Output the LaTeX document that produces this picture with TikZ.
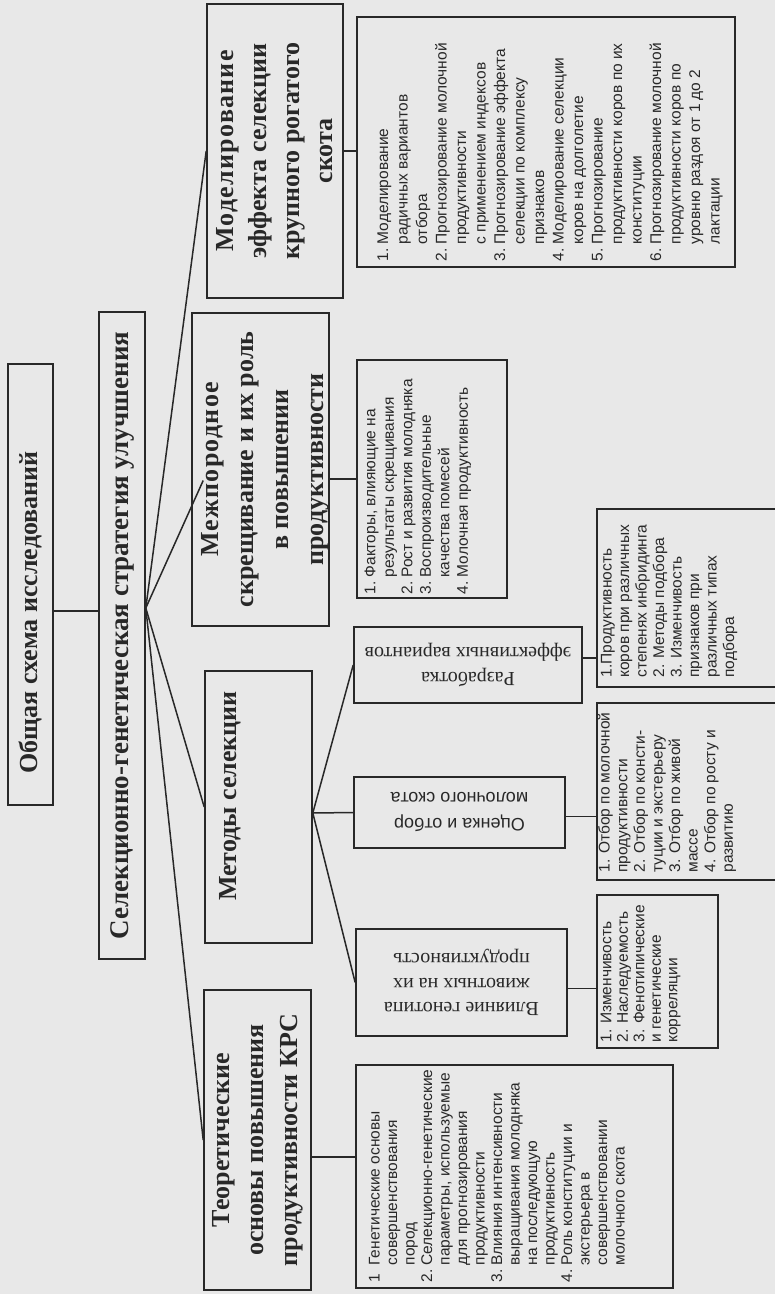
\documentclass[tikz,border=0pt]{standalone}
\usepackage{fontspec}
\setmainfont{Liberation Serif}
\newfontfamily\listfont{Liberation Sans}
\usetikzlibrary{calc}
\definecolor{bg}{RGB}{232,232,232}
\definecolor{ink}{RGB}{40,40,40}
\newcommand{\spaced}[1]{{\addfontfeature{LetterSpace=5}#1}}
\tikzset{
  box/.style={draw=ink, line width=1.6pt, inner sep=0pt},
  link/.style={draw=ink, line width=1.5pt},
  head/.style={rotate=90, align=center, text=ink, inner sep=0pt,
    font=\bfseries\fontsize{26}{33}\selectfont},
  flip/.style={rotate=180, align=center, text=ink, inner sep=0pt,
    font=\fontsize{20}{25}\selectfont},
  listtext/.style={rotate=90, anchor=north west, inner sep=0pt, text=ink,
    font=\listfont\fontsize{15.5}{18.5}\selectfont},
}
\begin{document}
\begin{tikzpicture}[x=1pt,y=-1pt]
\useasboundingbox (0,0) rectangle (775,1294);
\clip (0,0) rectangle (775,1294);
\fill[bg] (0,0) rectangle (775,1294);

% boxes
\node[box, minimum width=45pt,  minimum height=441pt] (T)   at (30.5,584.5) {};
\node[box, minimum width=46pt,  minimum height=647pt] (S)   at (122,635.5) {};
\node[box, minimum width=136pt, minimum height=294pt] (M)   at (275,151) {};
\node[box, minimum width=137pt, minimum height=313pt] (Mz)  at (260.5,469.5) {};
\node[box, minimum width=107pt, minimum height=272pt] (Me)  at (258.5,807) {};
\node[box, minimum width=107pt, minimum height=300pt] (Th)  at (257.5,1140) {};
\node[box, minimum width=378pt, minimum height=250pt] (ML)  at (546,142) {};
\node[box, minimum width=150pt, minimum height=238pt] (MzL) at (432,479) {};
\node[box, minimum width=228pt, minimum height=76pt]  (R)   at (468,665) {};
\node[box, minimum width=211pt, minimum height=71pt]  (O)   at (459.5,812.5) {};
\node[box, minimum width=211pt, minimum height=107pt] (V)   at (461.5,982.5) {};
\node[box, minimum width=193pt, minimum height=178pt] (RL)  at (693.5,598) {};
\node[box, minimum width=193pt, minimum height=177pt] (OL)  at (693.5,791.5) {};
\node[box, minimum width=121pt, minimum height=153pt] (VL)  at (657.5,971.5) {};
\node[box, minimum width=317pt, minimum height=223pt] (ThL) at (514.5,1176.5) {};

% headings
\node[head] (Tt) at ($(T.center)+(0,28)$) {Общая схема исследований};
\node[head, font=\bfseries\fontsize{27}{33}\selectfont] (St) at (S.center) {Селекционно-генетическая стратегия улучшения};
\node[head] (Mt) at (M.center) {\spaced{Моделирование}\\эффекта селекции\\крупного рогатого\\скота};
\node[head, font=\bfseries\fontsize{26}{35}\selectfont] (Mzt) at ($(Mz.center)+(5,0)$) {\spaced{Межпородное}\\скрещивание и их роль\\в повышении\\продуктивности};
\node[head, anchor=north] (Met) at ($(Me.west)+(15,-11)$) {Методы селекции};
\node[head, font=\bfseries\fontsize{26}{34}\selectfont] (Tht) at (Th.center) {Теоретические\\основы повышения\\продуктивности КРС};

% upside-down boxes
\node[flip] (Rt) at (R.center) {Разработка\\эффективных вариантов};
\node[flip, font=\listfont\fontsize{18}{26}\selectfont] (Ot) at (O.center) {Оценка и отбор\\молочного скота};
\node[flip, font=\fontsize{20}{24.5}\selectfont] (Vt) at (V.center) {Влияние генотипа\\животных на их\\продуктивность};

% lists
\node[listtext, font=\listfont\fontsize{15.5}{19.5}\selectfont] (MLt) at ($(ML.south west)+(18,-6)$) {%
\begin{tabular}{@{}l@{\ }l@{}}
1. & Моделирование\\
   & радичных вариантов\\
   & отбора\\
2. & Прогнозирование молочной\\
   & продуктивности\\
   & с применением индексов\\
3. & Прогнозирование эффекта\\
   & селекции по комплексу\\
   & признаков\\
4. & Моделирование селекции\\
   & коров на долголетие\\
5. & Прогнозирование\\
   & продуктивности коров по их\\
   & конституции\\
6. & Прогнозирование молочной\\
   & продуктивности коров по\\
   & уровню раздоя от 1 до 2\\
   & лактации
\end{tabular}};

\node[listtext] (MzLt) at ($(MzL.south west)+(6,-4)$) {%
\begin{tabular}{@{}l@{\ }l@{}}
1. & Факторы, влияющие на\\
   & результаты скрещивания\\
2. & Рост и развития молодняка\\
3. & Воспроизводительные\\
   & качества помесей\\
4. & Молочная продуктивность
\end{tabular}};

\node[listtext, font=\listfont\fontsize{15.5}{17.5}\selectfont] (RLt) at ($(RL.south west)+(3,-10)$) {%
\begin{tabular}{@{}l@{}}
1.Продуктивность\\
коров при различных\\
степенях инбридинга\\
2. Методы подбора\\
3. Изменчивость\\
признаков при\\
различных типах\\
подбора
\end{tabular}};

\node[listtext, font=\listfont\fontsize{15.5}{17.6}\selectfont] (OLt) at ($(OL.south west)+(1,-8)$) {%
\begin{tabular}{@{}l@{}}
1. Отбор по молочной\\
продуктивности\\
2. Отбор по консти-\\
туции и экстерьеру\\
3. Отбор по живой\\
массе\\
4. Отбор по росту и\\
развитию
\end{tabular}};

\node[listtext, font=\listfont\fontsize{15.5}{16.5}\selectfont] (VLt) at ($(VL.south west)+(3.5,-6)$) {%
\begin{tabular}{@{}l@{}}
1. Изменчивость\\
2. Наследуемость\\
3. Фенотипические\\
и генетические\\
корреляции
\end{tabular}};

\node[listtext, font=\listfont\fontsize{15.5}{17.5}\selectfont] (ThLt) at ($(ThL.south west)+(12,-6)$) {%
\begin{tabular}{@{}l@{\ }l@{}}
1  & Генетические основы\\
   & совершенствования\\
   & пород\\
2. & Селекционно-генетические\\
   & параметры, используемые\\
   & для прогнозирования\\
   & продуктивности\\
3. & Влияния интенсивности\\
   & выращивания молодняка\\
   & на последующую\\
   & продуктивность\\
4. & Роль конституции и\\
   & экстерьера в\\
   & совершенствовании\\
   & молочного скота
\end{tabular}};

% connectors
\coordinate (fanS) at ($(S.east)+(0,-27.5)$);
\coordinate (fanMe) at ($(Me.east)+(0,6)$);
\draw[link] ($(T.east)+(0,26.5)$) -- ($(S.west)+(0,-24.5)$);
\draw[link] (fanS) -- (M.west);
\draw[link] (fanS) -- ($(Mz.west)+(12,11)$);
\draw[link] (fanS) -- (Me.west);
\draw[link] (fanS) -- (Th.west);
\draw[link] (M.east) -- (M.east -| ML.west);
\draw[link] (MzL.west -| Mz.east) -- (MzL.west);
\draw[link] (fanMe) -- (R.west);
\draw[link] (fanMe) -- (O.west);
\draw[link] (fanMe) -- (V.west);
\draw[link] ($(R.east)+(0,-7)$) -- ($(R.east -| RL.west)+(0,-7)$);
\draw[link] ($(O.east)+(0,4)$) -- ($(O.east -| OL.west)+(0,4)$);
\draw[link] ($(V.east)+(0,6)$) -- ($(V.east -| VL.west)+(0,6)$);
\draw[link] ($(Th.east)+(0,17)$) -- ($(Th.east -| ThL.west)+(0,17)$);
\end{tikzpicture}
\end{document}
